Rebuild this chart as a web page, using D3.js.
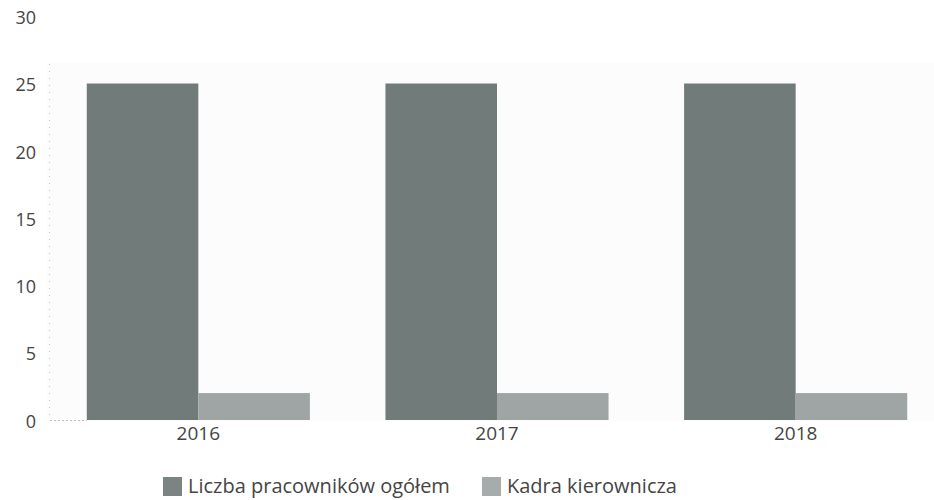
<!DOCTYPE html>
<html>
<head>
<meta charset="utf-8">
<script src="https://cdn.jsdelivr.net/npm/d3@7"></script>
<style>
  html, body { margin: 0; padding: 0; background: #ffffff; }
  svg { display: block; }
  text { font-family: "Open Sans", "Noto Sans", sans-serif; fill: #454545; }
</style>
</head>
<body>
<svg id="chart" width="934" height="500"></svg>
<script>
// Employment figures per year
const years = ["2016", "2017", "2018"];
const seriesNames = ["Liczba pracowników ogółem", "Kadra kierownicza"];
const totalEmployees = [25, 25, 25];
const managers = [2, 2, 2];
const yTicks = [0, 5, 10, 15, 20, 25, 30];

const seriesColors = ["#717c7a", "#9fa5a4"];
const legendColors = ["#7c8483", "#a6acab"];

const svg = d3.select("#chart");
const W = 934, H = 500;

const y = d3.scaleLinear().domain([0, 30]).range([420, 16.2]);
const x = d3.scaleBand().domain(years).range([49, 945]).paddingInner(0.253).paddingOuter(0.1265);
const xs = d3.scaleBand().domain(seriesNames).range([0, x.bandwidth()]).padding(0);

// faint plot panel
svg.append("rect")
  .attr("x", 47).attr("y", 63)
  .attr("width", W - 47).attr("height", y(0) - 63 + 1)
  .attr("fill", "#fcfcfc");

// dotted left axis and baseline stub
svg.append("line")
  .attr("x1", 49.5).attr("x2", 49.5)
  .attr("y1", 64).attr("y2", y(0))
  .attr("stroke", "#c4c4c4").attr("stroke-width", 1)
  .attr("stroke-dasharray", "1,6");
svg.append("line")
  .attr("x1", 50).attr("x2", x(years[0]))
  .attr("y1", y(0) + 0.5).attr("y2", y(0) + 0.5)
  .attr("stroke", "#bdbdbd").attr("stroke-width", 1)
  .attr("stroke-dasharray", "2,2");

// y axis labels
const yAxis = d3.axisLeft(y).tickValues(yTicks).tickSize(0).tickPadding(0);
const gy = svg.append("g").attr("transform", "translate(36,1.5)").call(yAxis);
gy.select(".domain").remove();
gy.selectAll("text")
  .attr("font-size", 18)
  .style("font-family", "'Open Sans', sans-serif")
  .attr("fill", "#454545");

// bars
const rows = years.map((yr, i) => ({ year: yr, values: [totalEmployees[i], managers[i]] }));
const groups = svg.append("g").selectAll("g").data(rows).join("g")
  .attr("transform", d => `translate(${x(d.year)},0)`);
groups.selectAll("rect")
  .data(d => d.values.map((v, k) => ({ key: seriesNames[k], value: v, k })))
  .join("rect")
  .attr("x", d => xs(d.key))
  .attr("width", xs.bandwidth())
  .attr("y", d => y(d.value))
  .attr("height", d => y(0) - y(d.value))
  .attr("fill", d => seriesColors[d.k]);

// x axis labels
const xAxis = d3.axisBottom(x).tickSize(0).tickPadding(0);
const gx = svg.append("g").attr("transform", "translate(0,426)").call(xAxis);
gx.select(".domain").remove();
gx.selectAll("text")
  .attr("font-size", 19)
  .style("font-family", "'Open Sans', sans-serif")
  .attr("fill", "#454545");

// legend
const legendX = [163, 482];
const legend = svg.append("g").selectAll("g").data(seriesNames).join("g")
  .attr("transform", (d, i) => `translate(${legendX[i]},477)`);
legend.append("rect")
  .attr("width", 19).attr("height", 19)
  .attr("fill", (d, i) => legendColors[i]);
legend.append("text")
  .attr("x", 25).attr("y", 9).attr("dy", "0.35em")
  .attr("font-size", 20)
  .text(d => d);
</script>
</body>
</html>
